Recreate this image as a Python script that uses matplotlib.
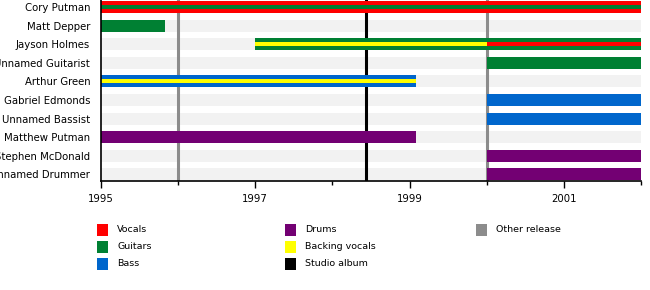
import matplotlib
matplotlib.use("Agg")
import matplotlib.pyplot as plt
from matplotlib.patches import Rectangle

# ---- data ----
members = ["Cory Putman", "Matt Depper", "Jayson Holmes", "Unnamed Guitarist",
           "Arthur Green", "Gabriel Edmonds", "Unnamed Bassist", "Matthew Putman",
           "Stephen McDonald", "Unnamed Drummer"]
# (member, role, start, end)
main_bars = [
    ("Cory Putman", "Vocals", 1995.0, 2002.0),
    ("Matt Depper", "Guitars", 1995.0, 1995.83),
    ("Jayson Holmes", "Guitars", 1997.0, 2002.0),
    ("Unnamed Guitarist", "Guitars", 2000.0, 2002.0),
    ("Arthur Green", "Bass", 1995.0, 1999.08),
    ("Gabriel Edmonds", "Bass", 2000.0, 2002.0),
    ("Unnamed Bassist", "Bass", 2000.0, 2002.0),
    ("Matthew Putman", "Drums", 1995.0, 1999.08),
    ("Stephen McDonald", "Drums", 2000.0, 2002.0),
    ("Unnamed Drummer", "Drums", 2000.0, 2002.0),
]
inner_bars = [
    ("Cory Putman", "Guitars", 1995.0, 2002.0),
    ("Jayson Holmes", "Backing vocals", 1997.0, 2000.0),
    ("Jayson Holmes", "Vocals", 2000.0, 2002.0),
    ("Arthur Green", "Backing vocals", 1995.0, 1999.08),
]
studio_albums = [1998.43]
other_releases = [1996.0, 2000.0]
start_year, end_year = 1995.0, 2002.0
major_ticks = [1995, 1997, 1999, 2001]
minor_ticks = [1996, 1998, 2000, 2002]

colors = {
    "Vocals": "#ff0000",
    "Guitars": "#008033",
    "Bass": "#0066cc",
    "Drums": "#730073",
    "Backing vocals": "#ffff00",
    "Studio album": "#000000",
    "Other release": "#8c8c8c",
}
legend_cols = [["Vocals", "Guitars", "Bass"],
               ["Drums", "Backing vocals", "Studio album"],
               ["Other release"]]

# ---- figure ----
W, H = 650, 290
fig = plt.figure(figsize=(W / 100, H / 100), dpi=100)
ax_l, ax_r, ax_t, ax_b = 101, 641, 0, 181
ax = fig.add_axes([ax_l / W, 1 - ax_b / H, (ax_r - ax_l) / W, (ax_b - ax_t) / H])

n = len(members)
ypos = {m: i for i, m in enumerate(members)}
bar_h = 0.645
ax.set_xlim(start_year, end_year)
ax.set_ylim(9.355, -0.376)

for m in members:
    ax.barh(ypos[m], end_year - start_year, left=start_year, height=bar_h,
            color="#f2f2f2", zorder=1, linewidth=0)

for x in other_releases:
    ax.axvline(x, color=colors["Other release"], lw=2.2, zorder=2)
for x in studio_albums:
    ax.axvline(x, color=colors["Studio album"], lw=2.2, zorder=2)

for m, role, s, e in main_bars:
    ax.barh(ypos[m], e - s, left=s, height=bar_h, color=colors[role],
            zorder=3, linewidth=0)
for m, role, s, e in inner_bars:
    ax.barh(ypos[m], e - s, left=s, height=bar_h / 3, color=colors[role],
            zorder=4, linewidth=0)

ax.set_yticks(range(n))
ax.set_yticklabels(members, fontsize=7.3, family="DejaVu Sans")
ax.tick_params(axis="y", left=False, pad=4.3)
ax.set_xticks(major_ticks)
ax.set_xticklabels([str(t) for t in major_ticks], fontsize=7.3)
ax.set_xticks(minor_ticks, minor=True)
ax.tick_params(axis="x", which="major", length=5, width=1, pad=4)
ax.tick_params(axis="x", which="minor", length=3, width=1)
for s in ["top", "right"]:
    ax.spines[s].set_visible(False)
for s in ["left", "bottom"]:
    ax.spines[s].set_linewidth(1.2)
    ax.spines[s].set_zorder(5)

# ---- legend ----
col_x = [97, 285, 476]
row_y = [229.5, 246.5, 263.5]
sq_w, sq_h = 11, 12
for ci, col in enumerate(legend_cols):
    for ri, name in enumerate(col):
        x0 = col_x[ci]
        yc = row_y[ri]
        fig.add_artist(Rectangle((x0 / W, 1 - (yc + sq_h / 2) / H), sq_w / W, sq_h / H,
                                 transform=fig.transFigure, color=colors[name], lw=0))
        fig.text((x0 + 20) / W, 1 - yc / H, name, fontsize=6.8, va="center", ha="left")

fig.savefig("out.png", dpi=100)
